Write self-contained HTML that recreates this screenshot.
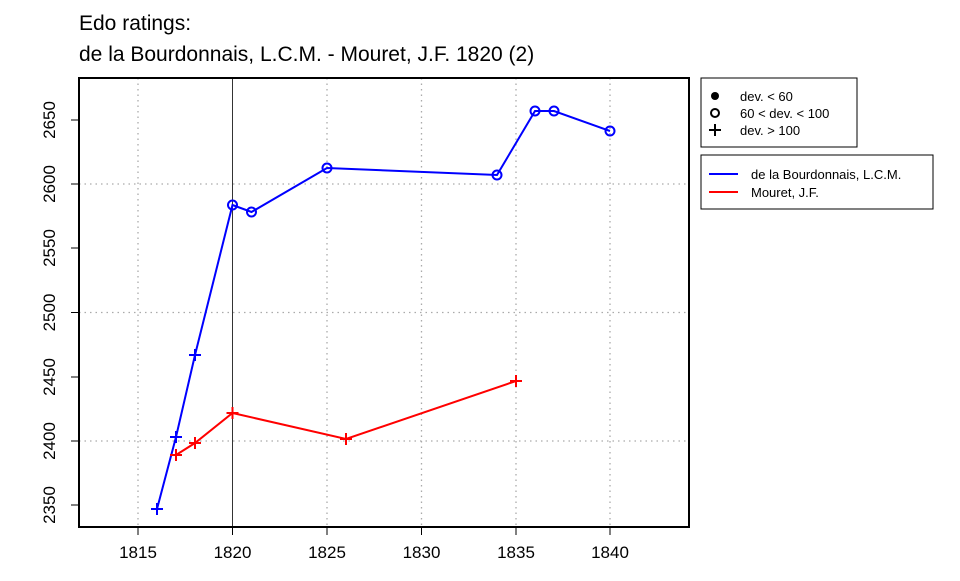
<!DOCTYPE html>
<html><head><meta charset="utf-8"><style>body{margin:0;background:#fff}</style></head><body>
<svg width="960" height="576" xmlns="http://www.w3.org/2000/svg" font-family="Liberation Sans, Arial, sans-serif">
<rect width="960" height="576" fill="#fff"/>
<text x="79" y="30" font-size="21">Edo ratings:</text>
<text x="79" y="61" font-size="21">de la Bourdonnais, L.C.M. - Mouret, J.F. 1820 (2)</text>
<g stroke="#aaa" stroke-width="1.3" stroke-dasharray="1.5,4">
<line x1="138" y1="78" x2="138" y2="527"/><line x1="327" y1="78" x2="327" y2="527"/>
<line x1="421.5" y1="78" x2="421.5" y2="527"/><line x1="516" y1="78" x2="516" y2="527"/>
<line x1="610" y1="78" x2="610" y2="527"/>
<line x1="79" y1="184" x2="689" y2="184"/><line x1="79" y1="312.5" x2="689" y2="312.5"/><line x1="79" y1="441" x2="689" y2="441"/>
</g>
<line x1="232.5" y1="78" x2="232.5" y2="527" stroke="#000" stroke-width="0.8"/>
<rect x="79" y="78" width="610" height="449" fill="none" stroke="#000" stroke-width="2"/>
<g stroke="#000" stroke-width="1">
<line x1="138" y1="527" x2="138" y2="535"/><line x1="232.5" y1="527" x2="232.5" y2="535"/><line x1="327" y1="527" x2="327" y2="535"/><line x1="421.5" y1="527" x2="421.5" y2="535"/><line x1="516" y1="527" x2="516" y2="535"/><line x1="610" y1="527" x2="610" y2="535"/>
<line x1="71" y1="505" x2="79" y2="505"/><line x1="71" y1="441" x2="79" y2="441"/><line x1="71" y1="377" x2="79" y2="377"/><line x1="71" y1="312.5" x2="79" y2="312.5"/><line x1="71" y1="248" x2="79" y2="248"/><line x1="71" y1="184" x2="79" y2="184"/><line x1="71" y1="120" x2="79" y2="120"/>
</g>
<g font-size="17" text-anchor="middle">
<text x="138" y="558">1815</text><text x="232.5" y="558">1820</text><text x="327" y="558">1825</text><text x="421.5" y="558">1830</text><text x="516" y="558">1835</text><text x="610" y="558">1840</text>
<text transform="translate(55,505) rotate(-90)">2350</text><text transform="translate(55,441) rotate(-90)">2400</text><text transform="translate(55,377) rotate(-90)">2450</text><text transform="translate(55,312.5) rotate(-90)">2500</text><text transform="translate(55,248) rotate(-90)">2550</text><text transform="translate(55,184) rotate(-90)">2600</text><text transform="translate(55,120) rotate(-90)">2650</text>
</g>
<polyline fill="none" stroke="#00f" stroke-width="2" points="157,509 176,437 195,355 232.5,205 251.5,212 327,168 497,175 535,111 554,111 610,131"/>
<polyline fill="none" stroke="#f00" stroke-width="2" points="176,455 195,443 232.5,413 346,439 516,381"/>
<g stroke="#00f" stroke-width="2" fill="none">
<path d="M151,509h12M157,503v12M170,437h12M176,431v12M189,355h12M195,349v12"/>
<circle cx="232.5" cy="205" r="4.5"/><circle cx="251.5" cy="212" r="4.5"/><circle cx="327" cy="168" r="4.5"/><circle cx="497" cy="175" r="4.5"/><circle cx="535" cy="111" r="4.5"/><circle cx="554" cy="111" r="4.5"/><circle cx="610" cy="131" r="4.5"/>
</g>
<g stroke="#f00" stroke-width="2"><path d="M170,455h12M176,449v12M189,443h12M195,437v12M226.5,413h12M232.5,407v12M340,439h12M346,433v12M510,381h12M516,375v12"/></g>
<rect x="701" y="78" width="156" height="69" fill="#fff" stroke="#000" stroke-width="1"/>
<circle cx="715" cy="96" r="4" fill="#000"/><circle cx="715" cy="113" r="4" fill="none" stroke="#000" stroke-width="2"/>
<path d="M709,130h12M715,124v12" stroke="#000" stroke-width="2"/>
<g font-size="13"><text x="740" y="101">dev. &lt; 60</text><text x="740" y="118">60 &lt; dev. &lt; 100</text><text x="740" y="135">dev. &gt; 100</text></g>
<rect x="701" y="155" width="232" height="54" fill="#fff" stroke="#000" stroke-width="1"/>
<line x1="709" y1="174" x2="738" y2="174" stroke="#00f" stroke-width="2"/><line x1="709" y1="192" x2="738" y2="192" stroke="#f00" stroke-width="2"/>
<g font-size="13"><text x="751" y="179">de la Bourdonnais, L.C.M.</text><text x="751" y="197">Mouret, J.F.</text></g>
</svg>
</body></html>
